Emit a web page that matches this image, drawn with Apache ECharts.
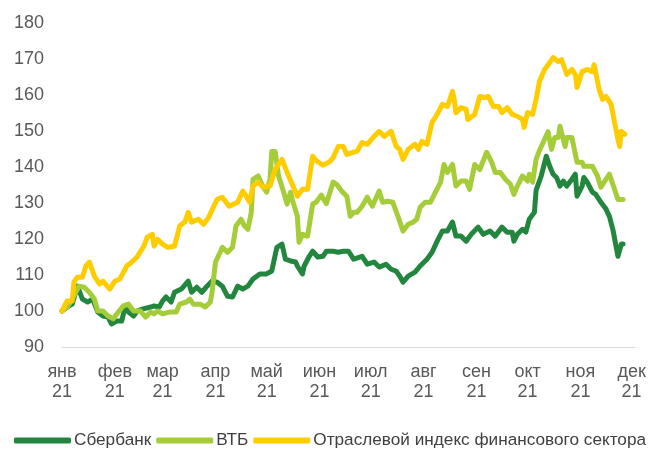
<!DOCTYPE html>
<html>
<head>
<meta charset="utf-8">
<script src="https://cdn.jsdelivr.net/npm/echarts@6/dist/echarts.min.js"></script>
<style>html,body{margin:0;padding:0;background:#fff}#c{width:653px;height:457px}</style>
</head>
<body>
<div id="c"></div>
<script>
// Month tick labels (day-of-year of each month start, 2021)
const monthNames = ['янв','фев','мар','апр','май','июн','июл','авг','сен','окт','ноя','дек'];
const monthStartDays = [0,31,59,90,120,151,181,212,243,273,304,334];
const yearLabel = '21';

// Сбербанк: day offsets from 1 Jan 2021 and index values
const sberDays = [0,4,6,9,12,15,18,21,24,27,29,32,35,37,39,42,44,47,52,54,57,59,61,64,66,70,74,76,79,82,85,88,91,94,97,100,103,106,109,112,116,120,123,126,129,131,134,137,138,141,142,145,147,150,153,155,159,162,165,168,171,176,179,183,186,190,193,196,198,200,203,207,210,214,217,220,223,226,229,231,234,237,240,244,247,251,254,258,261,264,265,267,270,272,274,277,278,281,284,286,288,290,292,294,296,299,301,302,305,306,308,311,313,316,319,321,323,326,328,329];
const sberValues = [100,101.4,101.9,106.9,103.3,102.5,103.3,99.7,98.6,98.3,96.4,97.2,97.2,101.1,99.7,98.6,100,100.5,101.1,101.4,101.1,102.8,103.9,102.5,105.2,106.1,108.3,105.2,106.6,105.2,106.9,108.3,108,106.9,104.1,103.9,106.9,106.1,106.9,108.9,110.3,110.3,111.1,117.7,118.6,114.4,113.9,113.6,112.5,110.3,112.5,115.2,116.6,115,115.2,116.6,116.6,116.3,116.6,116.6,114.4,115.2,113,113.6,112.2,113,111.6,111.1,109.7,108,109.7,110.8,112.5,114.4,116.3,119.4,122.2,122.2,124.7,120.8,120.8,119.4,121.3,123.3,121.3,122.2,120.8,123.3,121.9,121.9,119.4,121.3,122.7,121.9,125.5,127.4,133.5,137.5,143,140.2,138,137.1,134.7,136.1,134.7,136.6,138,131.9,134.7,137.1,135.8,133,132.4,130.2,128.3,126.3,122.7,115.2,118.6,118.6];

// ВТБ
const vtbDays = [0,3,6,10,13,16,19,21,24,27,30,33,36,39,42,46,49,52,54,56,59,63,67,69,73,75,77,81,84,87,88,90,93,94,97,100,102,105,107,109,111,112,115,118,120,122,123,125,127,130,132,134,135,138,139,141,144,147,149,152,155,159,161,164,167,169,171,173,176,179,182,183,186,188,191,194,197,200,203,206,208,210,213,216,219,222,224,226,229,231,234,237,239,242,245,249,252,254,257,260,263,265,267,270,273,274,276,278,280,283,285,287,289,291,292,295,296,299,302,305,306,311,314,316,319,321,323,326,329];
const vtbValues = [100,101.1,103.3,106.9,106.6,105.2,103.3,100,100,98.6,97.8,99.7,101.4,101.9,100,100,98.3,99.7,99.2,100,99.2,99.7,99.7,101.9,102.5,103.3,101.9,101.9,101.1,102.5,105.2,113.6,116.6,117.7,116.3,117.7,123.6,125.5,123.6,122.7,127.4,136.6,137.5,134.4,133,136.6,144.3,144.3,137.5,133,129.7,133,131,126.3,119.1,121.3,120.8,129.7,130.2,132.2,129.8,135.8,135.2,133.3,131.9,126.3,127.4,127.4,129.1,131.6,129.1,130.2,133.3,130.2,130.5,130.2,126.3,122.2,124.1,124.7,125.5,128.8,130.2,130.2,133,135.8,140.7,138.5,140.7,134.7,136.1,136.1,133.8,140.7,139.3,144.1,141.3,138.5,138.5,136.6,135.2,132.4,134.7,137.5,136.1,138,135.8,142.1,144.6,147.7,149.8,144.9,148.2,148.2,151.3,145.7,148.2,148.2,141.3,141.3,140.2,140.2,137.5,134.4,136.6,138,135.2,131,131];

// Отраслевой индекс финансового сектора
const indexDays = [0,3,6,7,9,12,14,16,19,22,24,28,31,34,38,41,44,48,50,53,54,56,59,62,66,69,72,74,76,80,83,86,89,91,94,98,103,106,108,110,112,115,118,122,125,129,132,135,138,141,144,147,149,153,157,159,162,165,167,173,176,179,183,186,189,193,196,198,200,203,207,209,211,214,217,220,223,226,229,230,231,234,237,238,242,245,248,250,253,256,258,261,264,267,270,271,273,276,278,280,283,286,288,291,293,296,299,301,302,305,308,311,312,315,317,319,322,324,326,327,328,330];
const indexValues = [100,102.8,102.8,108,109.4,109.4,112.5,113.6,109.7,107.5,108.3,106.1,108.3,108.9,112.5,113.6,115,118,120.5,121.3,118,119.9,118.6,117.7,118,123.6,124.7,127.4,124.7,125.5,124.1,126,129.1,131,131.6,129.1,130.2,133.3,131.9,130.2,134.7,135.8,134.4,134.7,139.3,142.1,138.5,135.2,131.9,133.8,133.8,143,141.8,140.5,141.5,142.6,145.7,145.7,143.5,144.4,146.8,146.3,148.5,149.9,148.5,149.9,145.7,144.9,142.1,144.9,146.3,144.9,147.1,146.3,152.4,154.6,157.4,156.8,161,158.7,155.1,156.5,156,153.2,154.6,159.6,159.3,159.6,156.8,156.8,155.1,156.5,154.6,154.1,153.2,151,155.1,154.6,158.8,163.8,167.1,169,170.4,169.3,169.8,165.7,167.1,165.7,162.1,166.5,167.1,166.5,168.4,161.5,158.8,159.6,157.4,152.4,147.7,145.7,149.9,149.1];

const seriesNames = ['Сбербанк','ВТБ','Отраслевой индекс финансового сектора'];
const seriesColors = ['#22863f','#a5cd39','#ffcc00'];

function pairs(days, vals){ return days.map((d,i)=>[d, vals[i]]); }

const chart = echarts.init(document.getElementById('c'), null, {renderer:'canvas'});
const axisFont = "'Liberation Sans',Arial,sans-serif";
chart.setOption({
  animation:false,
  backgroundColor:'#fff',
  color: seriesColors,
  grid:{left:62, right:18, top:23, bottom:110},
  legend:{
    left:9, right:0, bottom:3, itemGap:5, itemWidth:57, itemHeight:6, icon:'roundRect',
    textStyle:{fontFamily:axisFont, fontSize:17.2, color:'#404040', padding:[0,0,0,-2]},
    data: seriesNames
  },
  xAxis:{
    type:'value', min:0, max:336,
    axisLine:{show:true, lineStyle:{color:'#d9d9d9', width:1}},
    axisTick:{show:false},
    splitLine:{show:false},
    axisLabel:{
      customValues: monthStartDays,
      showMinLabel:true, showMaxLabel:true,
      margin:15, lineHeight:20,
      fontFamily:axisFont, fontSize:18, color:'#595959',
      formatter:function(v){ const i = monthStartDays.indexOf(v); return i<0 ? '' : monthNames[i] + '\n' + yearLabel; }
    }
  },
  yAxis:{
    type:'value', min:90, max:180, interval:10,
    axisLine:{show:false}, axisTick:{show:false}, splitLine:{show:false},
    axisLabel:{margin:18, fontFamily:axisFont, fontSize:18, color:'#595959'}
  },
  series:[
    {name:seriesNames[0], type:'line', data:pairs(sberDays, sberValues), showSymbol:false, symbol:'none', lineStyle:{width:5, cap:'round', join:'round'}},
    {name:seriesNames[1], type:'line', data:pairs(vtbDays, vtbValues), showSymbol:false, symbol:'none', lineStyle:{width:5, cap:'round', join:'round'}},
    {name:seriesNames[2], type:'line', data:pairs(indexDays, indexValues), showSymbol:false, symbol:'none', lineStyle:{width:5, cap:'round', join:'round'}}
  ]
});
</script>
</body>
</html>
